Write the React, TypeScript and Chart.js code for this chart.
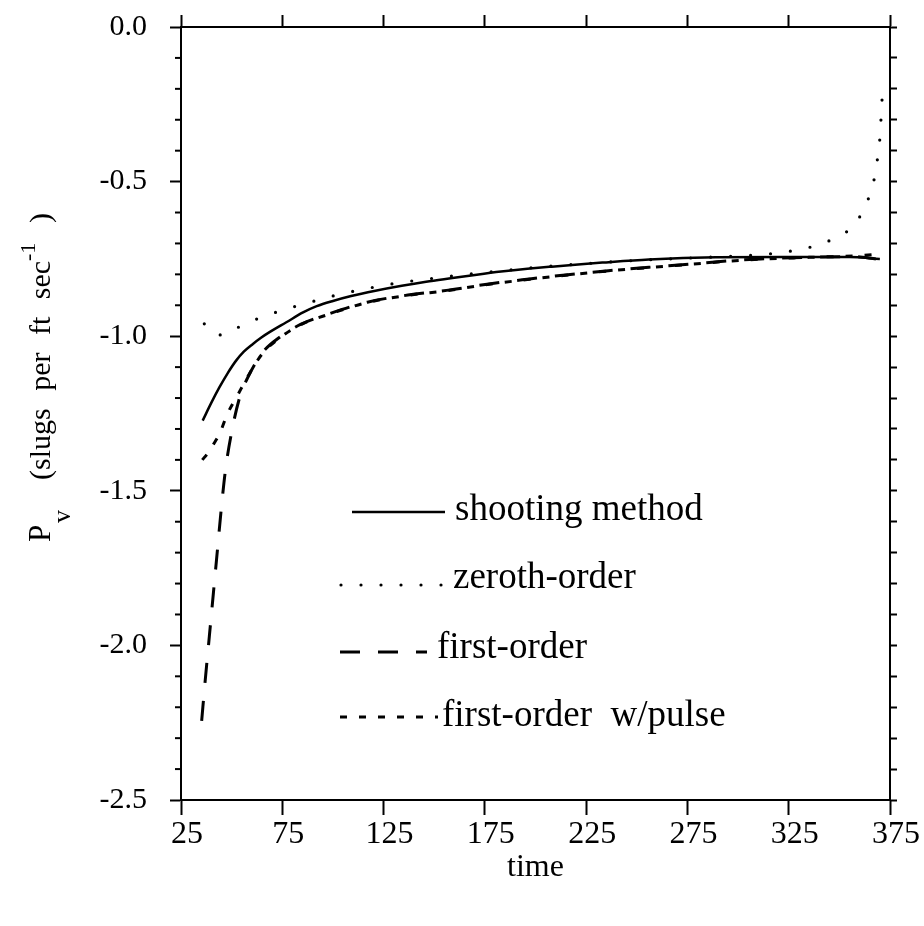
import React, { useEffect, useRef } from 'react';
import { Chart, registerables } from 'chart.js';

Chart.register(...registerables);

// ---- data ----
const xTickValues = [25, 75, 125, 175, 225, 275, 325, 375];
const yLabelValues = [0, -0.5, -1, -1.5, -2, -2.5];

const shootingT = [35.7, 40, 44, 48, 52.2, 56, 60.5, 64.5, 68.7, 77, 85, 92, 100, 109, 121, 134, 146, 159, 171, 183, 196, 208, 221, 233, 256, 289, 322, 355, 370];
const shootingV = [-1.273, -1.215, -1.165, -1.12, -1.079, -1.05, -1.025, -1.005, -0.987, -0.955, -0.924, -0.903, -0.886, -0.87, -0.853, -0.837, -0.824, -0.812, -0.801, -0.791, -0.782, -0.775, -0.768, -0.762, -0.752, -0.745, -0.744, -0.744, -0.75];

const zerothT = [36.5, 40, 44.8, 50, 54.7, 64.6, 74.5, 84.4, 94.3, 104.2, 113, 123, 133, 143, 153, 163, 172.5, 182, 192, 202, 217, 232, 247, 262, 277, 292, 305, 315, 322, 330, 340, 349.3, 355, 359.2, 363.8, 366.9, 368.6, 369.9, 370.5, 371, 371.5];
const zerothV = [-0.96, -0.985, -0.996, -0.984, -0.966, -0.939, -0.917, -0.898, -0.88, -0.863, -0.851, -0.838, -0.827, -0.818, -0.81, -0.802, -0.796, -0.789, -0.783, -0.776, -0.769, -0.762, -0.756, -0.751, -0.747, -0.743, -0.739, -0.734, -0.729, -0.72, -0.704, -0.678, -0.655, -0.623, -0.564, -0.501, -0.436, -0.368, -0.304, -0.244, -0.183];

const firstT = [35.2, 37, 39, 41, 43, 45, 47, 50, 54, 58, 65, 74, 84, 98, 117, 137, 157, 177, 197, 216, 236, 256, 276, 296, 311, 335, 358, 368];
const firstV = [-2.244, -2.11, -1.97, -1.83, -1.69, -1.55, -1.43, -1.31, -1.197, -1.133, -1.055, -1.002, -0.962, -0.928, -0.89, -0.867, -0.851, -0.831, -0.815, -0.801, -0.788, -0.777, -0.767, -0.756, -0.75, -0.745, -0.743, -0.75];

const pulseT = [35.5, 38, 41, 44, 48, 53, 58, 65, 74, 84, 98, 117, 137, 157, 177, 197, 216, 236, 256, 276, 296, 311, 335, 358, 370];
const pulseV = [-1.4, -1.38, -1.35, -1.316, -1.25, -1.19, -1.13, -1.058, -1.004, -0.963, -0.929, -0.891, -0.868, -0.852, -0.832, -0.816, -0.802, -0.789, -0.778, -0.768, -0.757, -0.751, -0.745, -0.74, -0.734];

const seriesNames = ['shooting method', 'zeroth-order', 'first-order', 'first-order  w/pulse'];
const xTitle = 'time';
const yTitleP = 'P';
const yTitleSub = 'v';
const yTitleMain = '(slugs per ft sec';
const yTitleSup = '-1';
const yTitleClose = ')';

const SERIF = '"Liberation Serif", "Times New Roman", serif';

const toPts = (t: number[], v: number[]) => t.map((x, i) => ({ x, y: v[i] }));
const isMajorY = (v: number) => Math.abs(v * 2 - Math.round(v * 2)) < 1e-6;

const decorPlugin = {
  id: 'decor',
  beforeDraw(chart: any) {
    const { ctx, width, height } = chart;
    ctx.save();
    ctx.fillStyle = '#fff';
    ctx.fillRect(0, 0, width, height);
    ctx.restore();
  },
  afterDraw(chart: any) {
    const { ctx } = chart;
    const { left, top } = chart.chartArea;
    const ys = chart.scales.y;
    ctx.save();
    ctx.strokeStyle = '#000';
    ctx.fillStyle = '#000';
    // minor ticks on left axis
    ctx.lineWidth = 2;
    ys.ticks.forEach((t: any) => {
      if (!isMajorY(t.value)) {
        const py = ys.getPixelForValue(t.value);
        ctx.beginPath();
        ctx.moveTo(left - 6, py);
        ctx.lineTo(left, py);
        ctx.stroke();
      }
    });

    // legend
    const rows = [
      { x0: left + 171, x1: left + 264, y: top + 485, tx: left + 274, ty: top + 483 },
      { x0: left + 160, x1: left + 262, y: top + 558, tx: left + 272, ty: top + 551 },
      { x0: left + 159, x1: left + 246, y: top + 625, tx: left + 256, ty: top + 621 },
      { x0: left + 159, x1: left + 257, y: top + 690, tx: left + 261, ty: top + 689 },
    ];
    rows.forEach((r, i) => {
      const ds = chart.data.datasets[i];
      ctx.save();
      ctx.lineWidth = ds.borderWidth;
      ctx.lineCap = ds.borderCapStyle || 'butt';
      ctx.setLineDash(ds.borderDash || []);
      ctx.beginPath();
      ctx.moveTo(r.x0, r.y);
      ctx.lineTo(r.x1, r.y);
      ctx.stroke();
      ctx.restore();
      ctx.font = `37px ${SERIF}`;
      ctx.textAlign = 'left';
      ctx.textBaseline = 'middle';
      ctx.fillText(seriesNames[i], r.tx, r.ty);
    });

    // y-axis title (rotated, with subscript and superscript)
    ctx.save();
    ctx.translate(50, 542);
    ctx.rotate(-Math.PI / 2);
    ctx.textAlign = 'left';
    ctx.textBaseline = 'alphabetic';
    ctx.font = `31px ${SERIF}`;
    ctx.fillText(yTitleP, 0, 0);
    ctx.font = `26px ${SERIF}`;
    ctx.fillText(yTitleSub, 19, 20);
    ctx.font = `30px ${SERIF}`;
    (ctx as any).wordSpacing = '10px';
    ctx.fillText(yTitleMain, 62, 0);
    (ctx as any).wordSpacing = '0px';
    ctx.font = `22px ${SERIF}`;
    ctx.fillText(yTitleSup, 281, -15);
    ctx.font = `30px ${SERIF}`;
    ctx.fillText(yTitleClose, 319, 0);
    ctx.restore();

    ctx.restore();
  },
};

export default function App() {
  const canvasRef = useRef<HTMLCanvasElement | null>(null);

  useEffect(() => {
    const canvas = canvasRef.current;
    if (!canvas) return;
    const setXTicks = (s: any) => {
      s.ticks = xTickValues.map((v) => ({ value: v }));
    };
    const noPadH = (s: any) => {
      s.paddingLeft = 0;
      s.paddingRight = 0;
    };
    const noPadV = (s: any) => {
      s.paddingTop = 0;
      s.paddingBottom = 0;
    };
    const border = { display: true, color: '#000', width: 2 };
    const chart = new Chart(canvas, {
      type: 'line',
      data: {
        datasets: [
          {
            label: seriesNames[0],
            data: toPts(shootingT, shootingV),
            borderColor: '#000',
            borderWidth: 2.5,
            pointRadius: 0,
            cubicInterpolationMode: 'monotone',
            fill: false,
          },
          {
            label: seriesNames[1],
            data: toPts(zerothT, zerothV),
            borderColor: '#000',
            borderWidth: 3.2,
            borderDash: [0, 20],
            borderCapStyle: 'round',
            pointRadius: 0,
            cubicInterpolationMode: 'monotone',
            fill: false,
          },
          {
            label: seriesNames[2],
            data: toPts(firstT, firstV),
            borderColor: '#000',
            borderWidth: 3,
            borderDash: [20, 18],
            pointRadius: 0,
            cubicInterpolationMode: 'monotone',
            fill: false,
          },
          {
            label: seriesNames[3],
            data: toPts(pulseT, pulseV),
            borderColor: '#000',
            borderWidth: 3,
            borderDash: [7, 12],
            pointRadius: 0,
            cubicInterpolationMode: 'monotone',
            fill: false,
          },
        ] as any,
      },
      options: {
        responsive: false,
        animation: false,
        devicePixelRatio: 1,
        layout: { padding: 0 },
        plugins: {
          legend: { display: false },
          tooltip: { enabled: false },
          title: { display: false },
        },
        scales: {
          x: {
            type: 'linear',
            position: 'bottom',
            min: 25,
            max: 375,
            afterBuildTicks: setXTicks,
            afterFit: (s: any) => {
              s.height = 126;
              noPadH(s);
            },
            grid: { drawOnChartArea: false, drawTicks: true, tickLength: 15, tickColor: '#000', tickWidth: 2 },
            border,
            ticks: {
              color: '#000',
              font: { family: SERIF, size: 32 },
              padding: 0,
              maxRotation: 0,
              autoSkip: false,
              labelOffset: 6,
              callback: (v: any) => String(v),
            },
            title: {
              display: true,
              text: xTitle,
              color: '#000',
              font: { family: SERIF, size: 32 },
              padding: { top: 0, bottom: 39 },
            },
          },
          x2: {
            type: 'linear',
            position: 'top',
            min: 25,
            max: 375,
            afterBuildTicks: setXTicks,
            afterFit: (s: any) => {
              s.height = 27;
              noPadH(s);
            },
            grid: { drawOnChartArea: false, drawTicks: true, tickLength: 12, tickColor: '#000', tickWidth: 2 },
            border,
            ticks: { display: false },
          },
          y: {
            type: 'linear',
            position: 'left',
            min: -2.5,
            max: 0,
            afterFit: (s: any) => {
              s.width = 181;
              noPadV(s);
            },
            grid: {
              drawOnChartArea: false,
              drawTicks: true,
              tickLength: 11,
              tickWidth: 2,
              tickColor: (c: any) => (c.tick && isMajorY(c.tick.value) ? '#000' : 'rgba(0,0,0,0)'),
            },
            border,
            ticks: {
              stepSize: 0.1,
              autoSkip: false,
              color: '#000',
              font: { family: SERIF, size: 30 },
              padding: 23,
              callback: (v: any) => {
                const n = Number(v);
                if (!isMajorY(n)) return '';
                const hit = yLabelValues.find((y) => Math.abs(y - n) < 1e-6);
                return hit === undefined ? '' : hit.toFixed(1);
              },
            },
          },
          y2: {
            type: 'linear',
            position: 'right',
            min: -2.5,
            max: 0,
            afterFit: (s: any) => {
              s.width = 34;
              noPadV(s);
            },
            grid: { drawOnChartArea: false, drawTicks: true, tickLength: 7, tickColor: '#000', tickWidth: 2 },
            border,
            ticks: { display: false, stepSize: 0.1, autoSkip: false },
          },
        },
      } as any,
      plugins: [decorPlugin],
    });
    return () => chart.destroy();
  }, []);

  return (
    <div style={{ position: 'absolute', left: 0, top: 0, width: 924, height: 926, background: '#fff' }}>
      <canvas ref={canvasRef} width={924} height={926} style={{ display: 'block' }} />
    </div>
  );
}
